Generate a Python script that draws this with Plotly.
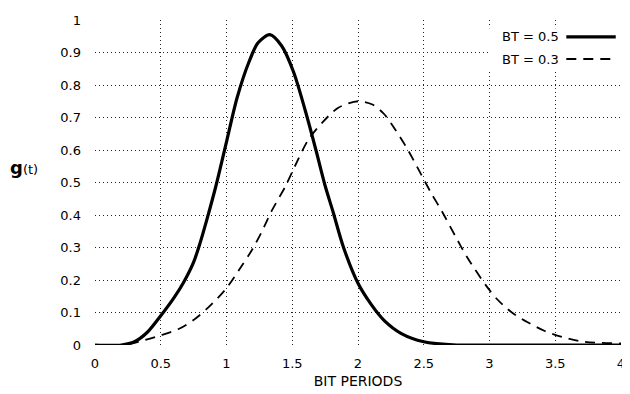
import plotly.graph_objects as go

# BT = 0.5 pulse
x_bt05 = [0, 0.2, 0.3, 0.4, 0.5, 0.6, 0.67, 0.75, 0.8, 0.85, 0.92, 1.0, 1.08, 1.17, 1.24,
          1.33, 1.42, 1.51, 1.6, 1.68, 1.75, 1.81, 1.89, 2.0, 2.1, 2.2, 2.33, 2.5, 2.75,
          3.0, 3.5, 4.0]
y_bt05 = [0, 0, 0.01, 0.04, 0.09, 0.145, 0.19, 0.255, 0.315, 0.385, 0.49, 0.625, 0.76, 0.87, 0.93,
          0.955, 0.92, 0.84, 0.72, 0.60, 0.49, 0.41, 0.30, 0.19, 0.125, 0.075, 0.035, 0.01, 0.0,
          0, 0, 0]

# BT = 0.3 pulse
x_bt03 = [0, 0.2, 0.33, 0.5, 0.64, 0.76, 0.86, 0.99, 1.11, 1.19, 1.27, 1.34, 1.45, 1.52, 1.62,
          1.73, 1.85, 2.0, 2.11, 2.2, 2.28, 2.38, 2.48, 2.56, 2.64, 2.74, 2.83, 2.97, 3.06,
          3.17, 3.29, 3.42, 3.55, 3.72, 4.0]
y_bt03 = [0, 0, 0.01, 0.03, 0.05, 0.08, 0.115, 0.17, 0.24, 0.29, 0.35, 0.41, 0.49, 0.55, 0.63,
          0.685, 0.73, 0.75, 0.74, 0.71, 0.665, 0.60, 0.525, 0.465, 0.41, 0.335, 0.27, 0.185, 0.14,
          0.10, 0.07, 0.043, 0.025, 0.01, 0.005]

series_names = ["BT = 0.5", "BT = 0.3"]
x_ticks = [0, 0.5, 1, 1.5, 2, 2.5, 3, 3.5, 4]
x_tick_text = ["0", "0.5", "1", "1.5", "2", "2.5", "3", "3.5", "4"]
y_ticks = [0, 0.1, 0.2, 0.3, 0.4, 0.5, 0.6, 0.7, 0.8, 0.9, 1]
y_tick_text = ["0", "0.1", "0.2", "0.3", "0.4", "0.5", "0.6", "0.7", "0.8", "0.9", "1"]
x_grid = [0.5, 1, 1.5, 2, 2.5, 3, 3.5]
y_grid = [0.1, 0.2, 0.3, 0.4, 0.5, 0.6, 0.7, 0.8, 0.9]

FONT = "DejaVu Sans, Verdana, sans-serif"
DASH = "10px,7px"

fig = go.Figure()
# empty trace so the grid-only axes get drawn
fig.add_trace(go.Scatter(x=[None], y=[None], mode="lines", showlegend=False,
                         hoverinfo="skip", xaxis="x", yaxis="y"))
fig.add_trace(go.Scatter(x=x_bt03, y=y_bt03, mode="lines", name=series_names[1],
                         line=dict(color="black", width=1.8, dash=DASH, shape="spline",
                                   smoothing=0.8),
                         xaxis="x2", yaxis="y2", showlegend=False))
fig.add_trace(go.Scatter(x=x_bt05, y=y_bt05, mode="lines", name=series_names[0],
                         line=dict(color="black", width=3.2, shape="spline", smoothing=0.8),
                         xaxis="x2", yaxis="y2", showlegend=False))

fig.update_layout(
    width=622, height=386,
    margin=dict(l=87, r=5, t=12, b=49),
    plot_bgcolor="white", paper_bgcolor="white",
    font=dict(family=FONT, color="black"),
    # grid-only axes (interior gridlines only)
    xaxis=dict(range=[0, 4], tickmode="array", tickvals=x_grid, showticklabels=False,
               showgrid=True, gridcolor="#222222", gridwidth=1, griddash="1px,3px",
               zeroline=False, showline=False, ticks=""),
    yaxis=dict(range=[0, 1], tickmode="array", tickvals=y_grid, showticklabels=False,
               showgrid=True, gridcolor="#222222", gridwidth=1, griddash="1px,3px",
               zeroline=False, showline=False, ticks=""),
    # data / label axes
    xaxis2=dict(range=[0, 4], overlaying="x", anchor="y2", tickmode="array",
                tickvals=x_ticks, ticktext=x_tick_text, showgrid=False, zeroline=False,
                showline=False, ticks="", ticklabelstandoff=9,
                tickfont=dict(family=FONT, size=13, color="black"),
                title=dict(text="BIT PERIODS", font=dict(family=FONT, size=14, color="black"),
                           standoff=6)),
    yaxis2=dict(range=[0, 1], overlaying="y", anchor="x2", tickmode="array",
                tickvals=y_ticks, ticktext=y_tick_text, showgrid=False, zeroline=False,
                showline=False, ticks="", ticklabelstandoff=13,
                tickfont=dict(family=FONT, size=13, color="black")),
)

# y-axis label g(t)
fig.add_annotation(x=0, y=0.545, xref="paper", yref="paper", xshift=-55,
                   text="<b><span style='font-size:18px'>g</span></b><span style='font-size:13px'>(t)</span>",
                   showarrow=False, xanchor="right", yanchor="middle",
                   font=dict(family=FONT, color="black"))

# legend (text left, line sample right) on a white box
fig.add_shape(type="rect", xref="paper", yref="paper", x0=0.749, x1=1.0, y0=0.846, y1=0.975,
              fillcolor="white", line=dict(width=0), layer="above")
legend_y = [0.948, 0.88]
for name, ly, dash, w in zip(series_names, legend_y, ["solid", DASH], [3.2, 1.8]):
    fig.add_annotation(x=0.885, y=ly, xref="paper", yref="paper", text=name, showarrow=False,
                       xanchor="right", yanchor="middle",
                       font=dict(family=FONT, size=13, color="black"))
    fig.add_shape(type="line", xref="paper", yref="paper", x0=0.896, x1=0.99, y0=ly, y1=ly,
                  line=dict(color="black", width=w, dash=dash), layer="above")

fig.write_html("out.html")
